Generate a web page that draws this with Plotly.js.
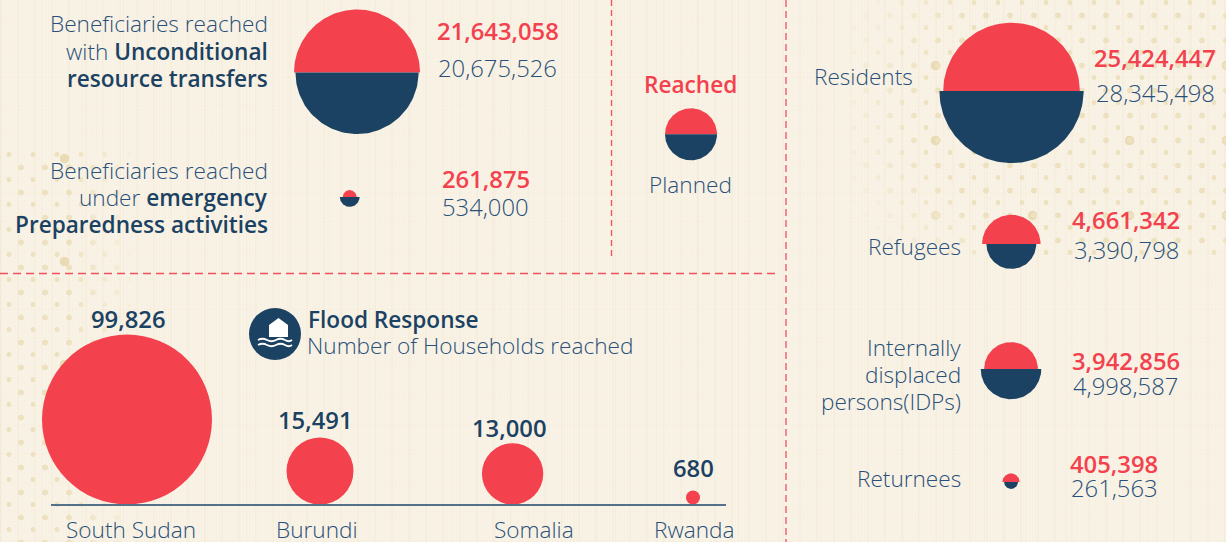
<!DOCTYPE html>
<html>
<head>
<meta charset="utf-8">
<script src="https://cdn.plot.ly/plotly-3.0.1.min.js"></script>
<style>
html,body{margin:0;padding:0;width:1226px;height:542px;overflow:hidden;background:#f9f3e7;}
#tex,#d1,#d2,#chart{position:absolute;}
#tex{left:0;top:0;width:1226px;height:542px;background-image:
 repeating-linear-gradient(90deg,rgba(226,208,160,.06) 0 1px,transparent 1px 3px),
 repeating-linear-gradient(90deg,rgba(226,208,160,.10) 0 2px,transparent 2px 17px),
 repeating-linear-gradient(90deg,rgba(226,208,160,.10) 0 1px,transparent 1px 41px),
 repeating-linear-gradient(0deg,rgba(226,208,160,.04) 0 1px,transparent 1px 4px),
 repeating-linear-gradient(0deg,rgba(226,208,160,.04) 0 2px,transparent 2px 29px);}
#d1{left:850px;top:0;width:376px;height:262px;
 background-image:
  radial-gradient(circle,#eee1bf 2.6px,transparent 3.3px),
  radial-gradient(circle,#eee1bf 2.1px,transparent 2.8px),
  radial-gradient(circle,#e9dbb4 4.4px,transparent 5.1px);
 background-size:24px 25px,24px 25px,97px 75px;
 background-position:4px 3px,16px 15px,37px 28px;
 -webkit-mask-image:radial-gradient(ellipse 300px 240px at 72% 42%,#000 65%,transparent 100%);}
#d2{left:0;top:150px;width:140px;height:392px;
 background-image:
  radial-gradient(circle,#eee1bf 2.6px,transparent 3.3px),
  radial-gradient(circle,#eee1bf 2.1px,transparent 2.8px),
  radial-gradient(circle,#e9dbb4 4.4px,transparent 5.1px);
 background-size:24px 25px,24px 25px,89px 103px;
 background-position:9px 5px,21px 17px,20px 60px;
 -webkit-mask-image:linear-gradient(90deg,#000 50%,transparent 100%);}
#chart{left:0;top:0;width:1226px;height:542px;}
</style>
</head>
<body>
<div id="tex"></div><div id="d1"></div><div id="d2"></div>
<div id="chart"></div>
<script>
// ---- data ----
const transferNames = ["Unconditional resource transfers", "Emergency preparedness activities"];
const transferReached = [21643058, 261875];
const transferPlanned = [20675526, 534000];

const groupNames = ["Residents", "Refugees", "Internally displaced persons(IDPs)", "Returnees"];
const groupReached = [25424447, 4661342, 3942856, 405398];
const groupPlanned = [28345498, 3390798, 4998587, 261563];

const floodCountries = ["South Sudan", "Burundi", "Somalia", "Rwanda"];
const floodHouseholds = [99826, 15491, 13000, 680];

// ---- layout (pixel space of the axes) ----
const RED = "#f3414e", NAVY = "#1b4263", SLATE = "#28507a", DASH = "#f0505c";
const people = 0.01354;   // radius px per sqrt(person)
const homes = 0.269;      // radius px per sqrt(household)
const transferCenter = [[357, 72.5], [349.7, 197]];
const groupCenter = [[1011.5, 91], [1011.3, 244], [1011, 369], [1011, 482]];
const legendCenter = [691, 134.3], legendRadius = 26;
const floodBase = 504.5;
const floodX = [127, 320, 512.6, 693];

function half(cx, cy, r, sign, color, name) {
  const xs = [], ys = [];
  for (let i = 0; i <= 90; i++) {
    const a = Math.PI * i / 90;
    xs.push(cx - r * Math.cos(a));
    ys.push(cy - sign * r * Math.sin(a));
  }
  return {x: xs, y: ys, mode: "lines", fill: "toself", fillcolor: color,
          line: {width: 0, color: color}, hoverinfo: "name", name: name, showlegend: false};
}
const traces = [];
function addPair(c, reached, planned, name) {
  traces.push(half(c[0], c[1], people * Math.sqrt(reached), 1, RED, name + " reached"));
  traces.push(half(c[0], c[1], people * Math.sqrt(planned), -1, NAVY, name + " planned"));
}
transferNames.forEach((n, i) => addPair(transferCenter[i], transferReached[i], transferPlanned[i], n));
groupNames.forEach((n, i) => addPair(groupCenter[i], groupReached[i], groupPlanned[i], n));
traces.push(half(legendCenter[0], legendCenter[1], legendRadius, 1, RED, "Reached"));
traces.push(half(legendCenter[0], legendCenter[1], legendRadius, -1, NAVY, "Planned"));

const floodR = floodHouseholds.map(v => homes * Math.sqrt(v));
traces.push({x: floodX, y: floodR.map(r => floodBase - r), text: floodCountries, mode: "markers",
  marker: {size: floodR.map(r => 2 * r), color: RED, opacity: 1, line: {width: 0}},
  hoverinfo: "text", showlegend: false, cliponaxis: false});

const fmt = v => v.toLocaleString("en-US");
const strong = s => '<span style="font-weight:600">' + s + "</span>";
const anns = [];
function t(text, x, y, anchor, size, color, weight) {
  anns.push({text: text, x: x, y: y - 1, xref: "x", yref: "y", xanchor: anchor, yanchor: "middle",
    showarrow: false, borderpad: 0,
    font: {family: "'Open Sans'", size: size, color: color, weight: weight || 300}});
}
const S = 22.6, V = 23.8;
// left block labels
t("Beneficiaries reached", 268.5, 24, "right", S, SLATE);
t("with " + strong('<span style="color:' + NAVY + '">Unconditional</span>'), 268.5, 52, "right", S, SLATE);
t("resource transfers", 268.5, 79, "right", S, NAVY, 600);
t("Beneficiaries reached", 268.5, 171, "right", S, SLATE);
t("under " + strong('<span style="color:' + NAVY + '">emergency</span>'), 268.5, 198, "right", S, SLATE);
t("Preparedness activities", 268.5, 225, "right", S, NAVY, 600);
// left block values
const tvx = [498, 486], tvy = [[32, 69], [180, 208]];
transferReached.forEach((v, i) => {
  t(fmt(v), tvx[i], tvy[i][0], "center", V, RED, 600);
  t(fmt(transferPlanned[i]), tvx[i] - 0.5, tvy[i][1], "center", V, SLATE);
});
// key
t("Reached", 690, 85, "center", S, RED, 600);
t("Planned", 690, 185, "center", S, SLATE);
// right block labels
t(groupNames[0], 913.5, 77, "right", S, SLATE);
t(groupNames[1], 961.5, 247, "right", S, SLATE);
t("Internally", 961.5, 348, "right", S, SLATE);
t("displaced", 961.5, 375, "right", S, SLATE);
t("persons(IDPs)", 961.5, 402, "right", S, SLATE);
t(groupNames[3], 961.5, 479, "right", S, SLATE);
// right block values
const gvx = [1155, 1126, 1125.5, 1114], gvy = [[59, 94], [221, 251], [362, 387], [465, 489]];
groupReached.forEach((v, i) => {
  t(fmt(v), gvx[i], gvy[i][0], "center", V, RED, 600);
  t(fmt(groupPlanned[i]), gvx[i], gvy[i][1], "center", V, SLATE);
});
// flood
t("Flood Response", 306.5, 320, "left", S, NAVY, 600);
t("Number of Households reached", 306, 346, "left", S, SLATE);
const fvx = [128, 315, 509, 693], fvy = [320, 421, 429, 469], fnx = [131, 317, 534, 694];
floodHouseholds.forEach((v, i) => {
  t(fmt(v), fvx[i], fvy[i], "center", V, NAVY, 600);
  t(floodCountries[i], fnx[i], 530, "center", S, SLATE);
});

const shapes = [
  {type: "line", x0: 0, x1: 775, y0: 273.5, y1: 273.5, line: {color: DASH, width: 1.3, dash: "8px,5px"}},
  {type: "line", x0: 611.5, x1: 611.5, y0: 0, y1: 260, line: {color: DASH, width: 1.3, dash: "6px,4px"}},
  {type: "line", x0: 786, x1: 786, y0: 0, y1: 542, line: {color: "#f06f78", width: 1.6, dash: "7px,4px"}},
  {type: "line", x0: 51, x1: 726, y0: 505, y1: 505, line: {color: "#54718a", width: 2}},
  // flood icon
  {type: "circle", x0: 249, x1: 301, y0: 308, y1: 360, fillcolor: NAVY, line: {width: 0}},
  {type: "path", path: "M 269 337 L 269 325 L 278.5 318 L 288 325 L 288 337 Z", fillcolor: "#ffffff", line: {width: 0}},
  {type: "path", path: "M 258 340 Q 262.5 337.5 267 340 Q 271.5 342.5 276 340 Q 280.5 337.5 285 340 Q 289 342.5 292 340",
    line: {color: "#ffffff", width: 1.8}},
  {type: "path", path: "M 258 345 Q 262.5 342.5 267 345 Q 271.5 347.5 276 345 Q 280.5 342.5 285 345 Q 289 347.5 292 345",
    line: {color: "#ffffff", width: 1.8}}
];

const hiddenAxis = {visible: false, showgrid: false, zeroline: false, fixedrange: true};
Plotly.newPlot("chart", traces, {
  width: 1226, height: 542,
  margin: {l: 0, r: 0, t: 0, b: 0, pad: 0},
  paper_bgcolor: "rgba(0,0,0,0)", plot_bgcolor: "rgba(0,0,0,0)",
  xaxis: Object.assign({range: [0, 1226]}, hiddenAxis),
  yaxis: Object.assign({range: [542, 0]}, hiddenAxis),
  annotations: anns, shapes: shapes, showlegend: false
}, {displayModeBar: false, staticPlot: true});
</script>
</body>
</html>
